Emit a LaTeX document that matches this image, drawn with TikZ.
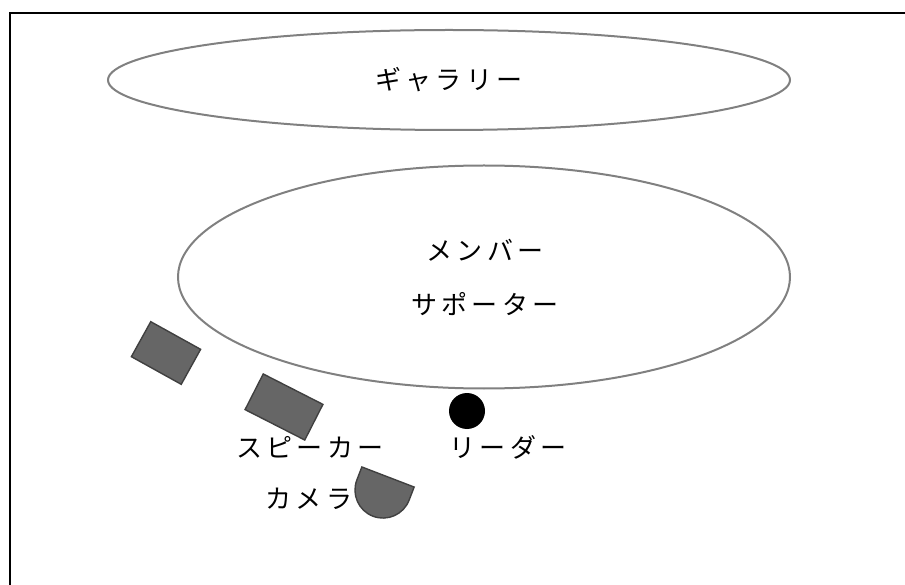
\documentclass[tikz,border=0pt]{standalone}
\usepackage{fontspec}
\newfontfamily\jpfont[LetterSpace=16]{Noto Sans CJK JP}
\usetikzlibrary{shapes.geometric}
\definecolor{ovalgray}{RGB}{128,128,128}
\definecolor{kitfill}{RGB}{102,102,102}
\definecolor{kitedge}{RGB}{64,64,64}
\tikzset{
  frameln/.style={line width=2pt, black},
  oval/.style={ellipse, draw=ovalgray, line width=2pt, inner sep=0pt},
  kitbox/.style={rectangle, draw=kitedge, fill=kitfill, line width=1.4pt, inner sep=0pt},
  jptext/.style={font=\jpfont\fontsize{26pt}{31pt}\selectfont, inner sep=0pt},
}

\begin{document}
\begin{tikzpicture}[x=1pt, y=-1pt]
    \useasboundingbox (0,0) rectangle (905,585);
    % frame, cut at right and bottom
    \draw[frameln] (10,585) -- (10,13) -- (905,13);
    % gallery
    \node[oval, minimum width=682pt, minimum height=100pt] (gallery) at (449,80) {};
    \node[jptext] (gallerylbl) at (449,80) {ギャラリー};
    % members and supporters
    \node[oval, minimum width=612pt, minimum height=223pt] (members) at (484,277) {};
    \node[jptext] (memberlbl) at (485,250) {メンバー};
    \node[jptext] (supporterlbl) at (485,304) {サポーター};
    % speakers
    \node[kitbox, minimum width=57pt, minimum height=40pt, rotate=-29] (spkleft) at (166,353) {};
    \node[kitbox, minimum width=67pt, minimum height=40pt, rotate=-27] (spkright) at (284,407) {};
    \node[jptext] (speakerlbl) at (310,447) {スピーカー};
    % camera
    \begin{scope}[shift={(388,477)}, rotate=-21]
      \draw[draw=kitedge, fill=kitfill, line width=1.4pt]
        (-28pt,0pt) -- (28pt,0pt) -- (28pt,-14pt)
        arc[start angle=0, end angle=-180, radius=28pt] -- cycle;
    \end{scope}
    \node[jptext] (cameralbl) at (309,499) {カメラ};
    % leader
    \node[circle, fill=black, minimum size=36pt, inner sep=0pt] (leader) at (467,411) {};
    \node[jptext] (leaderlbl) at (508,447) {リーダー};
\end{tikzpicture}
\end{document}
